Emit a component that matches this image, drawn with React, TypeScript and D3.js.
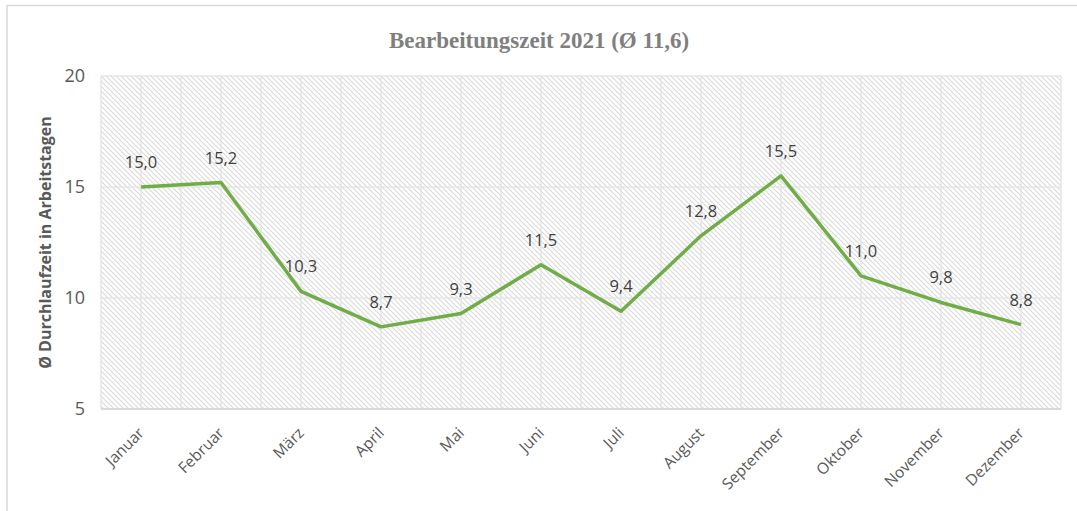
import React, { useEffect, useRef } from "react";
import * as d3 from "d3";

const months = [
  "Januar", "Februar", "März", "April", "Mai", "Juni",
  "Juli", "August", "September", "Oktober", "November", "Dezember",
];
const durations = [15.0, 15.2, 10.3, 8.7, 9.3, 11.5, 9.4, 12.8, 15.5, 11.0, 9.8, 8.8];
const yTicks = [5, 10, 15, 20];
const chartTitle = "Bearbeitungszeit 2021 (Ø 11,6)";
const yTitle = "Ø Durchlaufzeit in Arbeitstagen";

const width = 1077;
const height = 511;
const plot = { left: 101, right: 1061, top: 76, bottom: 409 };
const sans = "'Open Sans', 'DejaVu Sans', sans-serif";

export default function App() {
  const ref = useRef<SVGSVGElement>(null);

  useEffect(() => {
    const svg = d3.select(ref.current);
    svg.selectAll("*").remove();

    const x = d3.scaleBand().domain(months).range([plot.left, plot.right]);
    const y = d3.scaleLinear().domain([5, 20]).range([plot.bottom, plot.top]);
    const cx = (m: string) => (x(m) as number) + x.bandwidth() / 2;

    // hatch pattern
    const defs = svg.append("defs");
    const pat = defs
      .append("pattern")
      .attr("id", "hatch")
      .attr("patternUnits", "userSpaceOnUse")
      .attr("width", 5)
      .attr("height", 5);
    pat.append("rect").attr("width", 5).attr("height", 5).attr("fill", "#ffffff");
    pat
      .append("path")
      .attr("d", "M0,0 L5,5 M-1,4 L1,6 M4,-1 L6,1")
      .attr("stroke", "#dadada")
      .attr("stroke-width", 1.1);

    // chart border
    svg
      .append("rect")
      .attr("x", 7)
      .attr("y", 5.5)
      .attr("width", 1080)
      .attr("height", 520)
      .attr("fill", "none")
      .attr("stroke", "#d9d9d9")
      .attr("stroke-width", 1.5);

    // title
    svg
      .append("text")
      .attr("x", 539)
      .attr("y", 48)
      .attr("text-anchor", "middle")
      .style("font", "bold 23px 'Liberation Serif', 'DejaVu Serif', serif")
      .style("fill", "#7f7f7f")
      .text(chartTitle);

    // plot background
    svg
      .append("rect")
      .attr("x", plot.left)
      .attr("y", plot.top)
      .attr("width", plot.right - plot.left)
      .attr("height", plot.bottom - plot.top)
      .attr("fill", "url(#hatch)");

    // vertical gridlines: band edges and centres
    const vLines: number[] = [];
    months.forEach((m) => {
      vLines.push(x(m) as number);
      vLines.push(cx(m));
    });
    vLines.push(plot.right);
    svg
      .append("g")
      .selectAll("line")
      .data(vLines)
      .enter()
      .append("line")
      .attr("x1", (d) => d)
      .attr("x2", (d) => d)
      .attr("y1", plot.top)
      .attr("y2", plot.bottom)
      .attr("stroke", "#e6e6e6")
      .attr("stroke-width", 1.5);

    // horizontal gridlines
    svg
      .append("g")
      .selectAll("line")
      .data(yTicks)
      .enter()
      .append("line")
      .attr("x1", plot.left)
      .attr("x2", plot.right)
      .attr("y1", (d) => y(d))
      .attr("y2", (d) => y(d))
      .attr("stroke", (d) => (d === 5 ? "#d9d9d9" : "#e6e6e6"))
      .attr("stroke-width", (d) => (d === 5 ? 2 : 1.5));

    // y tick labels
    svg
      .append("g")
      .selectAll("text")
      .data(yTicks)
      .enter()
      .append("text")
      .attr("x", 85)
      .attr("y", (d) => y(d))
      .attr("dy", "0.35em")
      .attr("text-anchor", "end")
      .style("font", `18px ${sans}`)
      .style("fill", "#595959")
      .text((d) => String(d));

    // y axis title
    svg
      .append("text")
      .attr("transform", `translate(51,${(plot.top + plot.bottom) / 2}) rotate(-90)`)
      .attr("text-anchor", "middle")
      .style("font", `bold 16px ${sans}`)
      .style("fill", "#595959")
      .text(yTitle);

    // x labels
    svg
      .append("g")
      .selectAll("text")
      .data(months)
      .enter()
      .append("text")
      .attr("transform", (d) => `translate(${cx(d) + 4},${plot.bottom + 25}) rotate(-45)`)
      .attr("text-anchor", "end")
      .style("font", `15.5px ${sans}`)
      .style("fill", "#595959")
      .text((d) => d);

    // line
    const line = d3
      .line<number>()
      .x((_, i) => cx(months[i]))
      .y((d) => y(d));
    svg
      .append("path")
      .datum(durations)
      .attr("d", line)
      .attr("fill", "none")
      .attr("stroke", "#70ad47")
      .attr("stroke-width", 3.5)
      .attr("stroke-linejoin", "round");

    // data labels
    svg
      .append("g")
      .selectAll("text")
      .data(durations)
      .enter()
      .append("text")
      .attr("x", (_, i) => cx(months[i]))
      .attr("y", (d) => y(d) - 19)
      .attr("text-anchor", "middle")
      .style("font", `16.5px ${sans}`)
      .style("fill", "#404040")
      .text((d) => d.toFixed(1).replace(".", ","));
  }, []);

  return (
    <svg
      ref={ref}
      width={width}
      height={height}
      style={{ position: "absolute", left: 0, top: 0, display: "block", background: "#fff" }}
    />
  );
}
